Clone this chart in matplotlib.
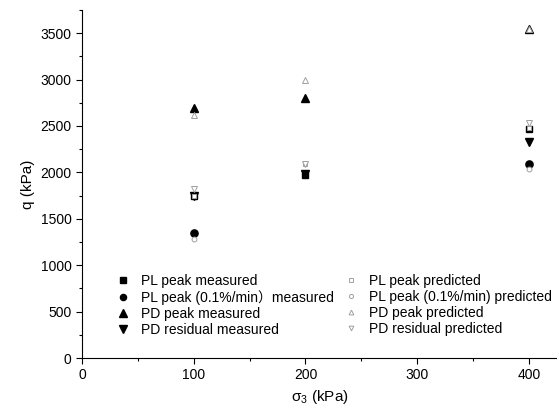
import numpy as np
import matplotlib
matplotlib.use("Agg")
from matplotlib import pyplot as plt
from matplotlib.ticker import MultipleLocator

plt.rcParams['font.family'] = ['Liberation Sans', 'Noto Sans CJK SC', 'DejaVu Sans']

sigma3 = [100, 200, 400]

# measured
pl_peak_meas = [1745, 1975, 2470]
pl_slow_meas = [1345, np.nan, 2085]
pd_peak_meas = [2690, 2800, 3540]
pd_res_meas = [1750, 1980, 2330]

# predicted
pl_peak_pred = [1745, 2090, 2480]
pl_slow_pred = [1285, np.nan, 2040]
pd_peak_pred = [2620, 2990, 3540]
pd_res_pred = [1820, 2090, 2535]

fig = plt.figure(figsize=(5.57, 4.13), dpi=100)
ax = fig.add_axes([0.147, 0.133, 0.853, 0.843])

ax.plot(sigma3, pl_peak_meas, 's', ms=4.8, color='black', ls='none', label='PL peak measured')
ax.plot(sigma3, pl_slow_meas, 'o', ms=5.2, color='black', ls='none', label='PL peak (0.1%/min\uff09measured')
ax.plot(sigma3, pd_peak_meas, '^', ms=6, color='black', ls='none', label='PD peak measured')
ax.plot(sigma3, pd_res_meas, 'v', ms=6, color='black', ls='none', label='PD residual measured')

grey = '#a0a0a0'
ax.plot(sigma3, pl_peak_pred, 's', ms=3, mfc='white', mec=grey, mew=0.7, ls='none', label='PL peak predicted')
ax.plot(sigma3, pl_slow_pred, 'o', ms=3.5, mfc='white', mec=grey, mew=0.7, ls='none', label='PL peak (0.1%/min) predicted')
ax.plot(sigma3, pd_peak_pred, '^', ms=4, mfc='white', mec=grey, mew=0.7, ls='none', label='PD peak predicted')
ax.plot(sigma3, pd_res_pred, 'v', ms=4, mfc='white', mec=grey, mew=0.7, ls='none', label='PD residual predicted')

ax.set_xlim(0, 425)
ax.set_ylim(0, 3750)
ax.xaxis.set_major_locator(MultipleLocator(100))
ax.xaxis.set_minor_locator(MultipleLocator(50))
ax.yaxis.set_major_locator(MultipleLocator(500))
ax.yaxis.set_minor_locator(MultipleLocator(250))
ax.spines['top'].set_visible(False)
ax.spines['right'].set_visible(False)
ax.tick_params(which='major', length=4, width=0.8, labelsize=10)
ax.tick_params(which='minor', length=2.5, width=0.8)
ax.set_xlabel(r'$\mathregular{\sigma_3}$ (kPa)', fontsize=11)
ax.set_ylabel('q (kPa)', fontsize=11)

ax.legend(ncol=2, loc='lower left', bbox_to_anchor=(0.06, 0.045), frameon=False,
          fontsize=10, handletextpad=0.8, columnspacing=0.75, labelspacing=0.15,
          handlelength=1.0, borderaxespad=0, markerscale=0.85)

fig.savefig('out.png', dpi=100)
